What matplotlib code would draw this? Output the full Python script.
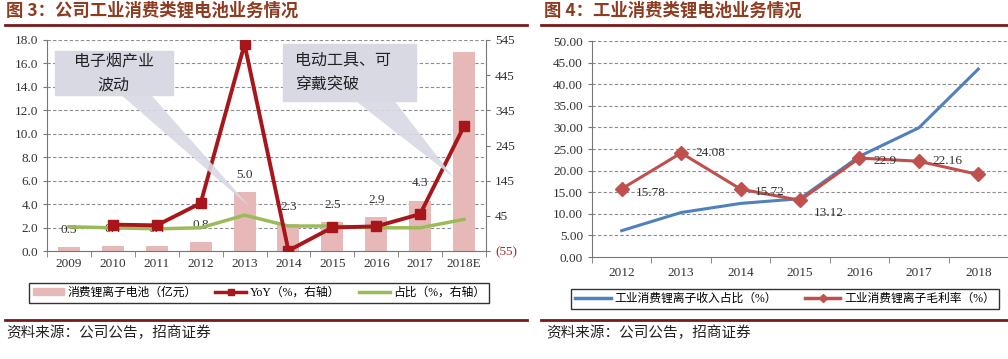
import matplotlib
matplotlib.use("Agg")
import matplotlib.pyplot as plt
import numpy as np
from matplotlib.patches import Polygon, Rectangle
from matplotlib.lines import Line2D

plt.rcParams['font.family'] = ['Liberation Serif', 'Noto Sans CJK SC', 'DejaVu Sans']

# ---------------- data: left chart ----------------
years_l = ['2009', '2010', '2011', '2012', '2013', '2014', '2015', '2016', '2017', '2018E']
revenue = [0.3, 0.4, 0.4, 0.8, 5.0, 2.3, 2.5, 2.9, 4.3, 17.0]
revenue_labels = ['0.3', '0.4', '0.4', '0.8', '5.0', '2.3', '2.5', '2.9', '4.3', '']
yoy = [np.nan, 20, 18, 81, 533, -54, 12, 15, 50, 300]
share = [14, 11, 8, 11, 47, 16, 16, 11, 11, 35]
left_ticks = [0, 2, 4, 6, 8, 10, 12, 14, 16, 18]
right_ticks = [-55, 45, 145, 245, 345, 445, 545]

# ---------------- data: right chart ----------------
years_r = ['2012', '2013', '2014', '2015', '2016', '2017', '2018']
income_share = [6.1, 10.3, 12.4, 13.5, 23.3, 29.9, 43.5]
gross_margin = [15.78, 24.08, 15.72, 13.12, 22.9, 22.16, 19.1]
gm_labels = ['15.78', '24.08', '15.72', '13.12', '22.9', '22.16', '']
r_ticks = [0, 5, 10, 15, 20, 25, 30, 35, 40, 45, 50]

W, H = 1008, 359
fig = plt.figure(figsize=(W / 100, H / 100), dpi=100)

def fx(px):
    return px / W

def fy(py):
    return 1 - py / H

title_color = '#8E3B1F'
rule_color = '#7A1A1A'
grid_color = '#8C8C8C'
text_color = '#333333'

# ---------- headers / footers ----------
fig.text(fx(6), fy(11), '图 3：公司工业消费类锂电池业务情况', fontsize=12.5, fontweight='bold',
         color=title_color, va='center', ha='left', family=['Noto Sans CJK SC', 'DejaVu Sans'])
fig.text(fx(544), fy(11), '图 4：工业消费类锂电池业务情况', fontsize=12.5, fontweight='bold',
         color=title_color, va='center', ha='left', family=['Noto Sans CJK SC', 'DejaVu Sans'])
fig.add_artist(Line2D([fx(5), fx(527)], [fy(24.5), fy(24.5)], color=rule_color, lw=2))
fig.add_artist(Line2D([fx(541), fx(1008)], [fy(24.5), fy(24.5)], color=rule_color, lw=2))
fig.add_artist(Line2D([fx(5), fx(527)], [fy(320), fy(320)], color=rule_color, lw=2))
fig.add_artist(Line2D([fx(541), fx(1008)], [fy(320), fy(320)], color=rule_color, lw=2))
fig.text(fx(6), fy(333), '资料来源：公司公告，招商证券', fontsize=10.5, color='#222222',
         va='center', ha='left', family=['Noto Sans CJK SC', 'DejaVu Sans'])
fig.text(fx(546), fy(333), '资料来源：公司公告，招商证券', fontsize=10.5, color='#222222',
         va='center', ha='left', family=['Noto Sans CJK SC', 'DejaVu Sans'])

# ---------- left chart ----------
axL = fig.add_axes([fx(47), fy(251), fx(486) - fx(47), fy(40) - fy(251)])
x = np.arange(len(years_l))
axL.bar(x, revenue, width=0.5, color='#E6B9B8', zorder=2)
axL.set_ylim(0, 18)
axL.set_xlim(-0.5, len(years_l) - 0.5)
axL.set_yticks(left_ticks)
axL.set_yticklabels([f'{v:.1f}' for v in left_ticks])
for v in left_ticks:
    axL.axhline(v, color=grid_color, lw=0.8, ls=(0, (3, 2)), zorder=1)
for i, (v, lab) in enumerate(zip(revenue, revenue_labels)):
    if lab:
        axL.annotate(lab, (i, v), xytext=(0, 8), textcoords='offset points', ha='center',
                     va='bottom', fontsize=9.5, color=text_color, zorder=6)
axL.set_xticks(x)
axL.set_xticklabels(years_l)
axL.set_xticks(np.arange(-0.5, len(years_l)), minor=True)
axL.tick_params(axis='x', which='major', length=0, labelsize=9.5, colors=text_color, pad=5)
axL.tick_params(axis='x', which='minor', length=4, color='#777777')
axL.tick_params(axis='y', length=3, labelsize=9.5, colors=text_color, color='#777777')
for s in ['top', 'right']:
    axL.spines[s].set_visible(False)
axL.spines['left'].set_color('#777777')
axL.spines['bottom'].set_color('#777777')

axR = axL.twinx()
axR.set_ylim(-55, 545)
axR.set_yticks(right_ticks)
axR.set_yticklabels(['(55)' if v < 0 else str(v) for v in right_ticks])
axR.tick_params(axis='y', length=3, labelsize=9.5, colors=text_color, color='#777777')
axR.get_yticklabels()[0].set_color('#A0302A')
for s in ['top', 'left', 'bottom']:
    axR.spines[s].set_visible(False)
axR.spines['right'].set_color('#777777')
axR.plot(x, share, color='#9BBB59', lw=2.5, zorder=3)
axR.plot(x, yoy, color='#A8161B', lw=2.8, marker='s', ms=7.5, zorder=4)

# callouts (axes-fraction coordinates)
callout_color = '#D9D9E4'
box1 = Rectangle((0.018, 0.739), 0.269, 0.209, transform=axL.transAxes, color=callout_color, zorder=5)
wedge1 = Polygon([(0.166, 0.745), (0.235, 0.745), (0.462, 0.209)], closed=True,
                 transform=axL.transAxes, color=callout_color, alpha=0.9, zorder=5, lw=0)
box2 = Rectangle((0.538, 0.711), 0.303, 0.270, transform=axL.transAxes, color=callout_color, zorder=5)
wedge2 = Polygon([(0.700, 0.716), (0.790, 0.716), (0.925, 0.351)], closed=True,
                 transform=axL.transAxes, color=callout_color, alpha=0.9, zorder=5, lw=0)
for p in [wedge1, box1, wedge2, box2]:
    p.set_clip_on(False)
    axR.add_patch(p)
axR.text(0.152, 0.843, '电子烟产业\n波动', transform=axL.transAxes, ha='center', va='center',
         fontsize=11.5, linespacing=1.6, color='#222222', zorder=6,
         family=['Noto Sans CJK SC', 'DejaVu Sans'])
axR.text(0.565, 0.846, '电动工具、可\n穿戴突破', transform=axL.transAxes, ha='left', va='center',
         fontsize=11.5, linespacing=1.6, color='#222222', zorder=6,
         family=['Noto Sans CJK SC', 'DejaVu Sans'])

# left legend
hL = [Rectangle((0, 0), 1, 1, color='#E6B9B8'),
      Line2D([], [], color='#A8161B', lw=2.5, marker='s', ms=5),
      Line2D([], [], color='#9BBB59', lw=2.5)]
legL = fig.legend(hL, ['消费锂离子电池（亿元）', 'YoY（%，右轴）', '占比（%，右轴）'],
                  loc='center', bbox_to_anchor=(fx(259), fy(293)), ncol=3, frameon=True,
                  fancybox=False, edgecolor='black', handlelength=2.6, handleheight=0.5,
                  columnspacing=1.6, handletextpad=0.3, borderpad=0.35,
                  prop={'family': ['Liberation Serif', 'Noto Sans CJK SC'], 'size': 8.5})
legL.get_frame().set_linewidth(1.0)

# ---------- right chart ----------
ax2 = fig.add_axes([fx(592), fy(257), fx(1008) - fx(592), fy(41) - fy(257)])
xr = np.arange(len(years_r))
ax2.set_ylim(0, 50)
ax2.set_xlim(-0.5, -0.5 + (1008 - 592) / 60.5)
ax2.set_yticks(r_ticks)
ax2.set_yticklabels([f'{v:.2f}' for v in r_ticks])
for v in r_ticks[1:]:
    ax2.axhline(v, color=grid_color, lw=0.8, ls=(0, (3, 2)), zorder=1)
ax2.plot(xr, income_share, color='#4F81BD', lw=2.2, zorder=3)
ax2.plot(xr, gross_margin, color='#C0504D', lw=2.2, marker='D', ms=7, zorder=4)
offsets = [(10, -3), (10, 0), (10, -2), (10, -9), (10, -2), (10, 0)]
for i, lab in enumerate(gm_labels):
    if lab:
        ax2.annotate(lab, (xr[i], gross_margin[i]), xytext=offsets[i], textcoords='offset points',
                     ha='left', va='center', fontsize=9.5, color=text_color, zorder=6)
ax2.set_xticks(xr)
ax2.set_xticklabels(years_r)
ax2.set_xticks(np.arange(-0.5, len(years_r)), minor=True)
ax2.tick_params(axis='x', which='major', length=0, labelsize=9.5, colors=text_color, pad=7)
ax2.tick_params(axis='x', which='minor', length=4, color='#777777')
ax2.tick_params(axis='y', length=3, labelsize=9.5, colors=text_color, color='#777777')
for s in ['top', 'right']:
    ax2.spines[s].set_visible(False)
ax2.spines['left'].set_color('#777777')
ax2.spines['bottom'].set_color('#777777')

hR = [Line2D([], [], color='#4F81BD', lw=2.5),
      Line2D([], [], color='#C0504D', lw=2.5, marker='D', ms=4)]
legR = fig.legend(hR, ['工业消费锂离子收入占比（%）', '工业消费锂离子毛利率（%）'],
                  loc='center', bbox_to_anchor=(fx(785), fy(299)), ncol=2, frameon=True,
                  fancybox=False, edgecolor='black', handlelength=3,
                  columnspacing=2.4, handletextpad=0.3, borderpad=0.35,
                  prop={'family': ['Liberation Serif', 'Noto Sans CJK SC'], 'size': 8.5})
legR.get_frame().set_linewidth(1.0)

fig.savefig('out.png', dpi=100)
